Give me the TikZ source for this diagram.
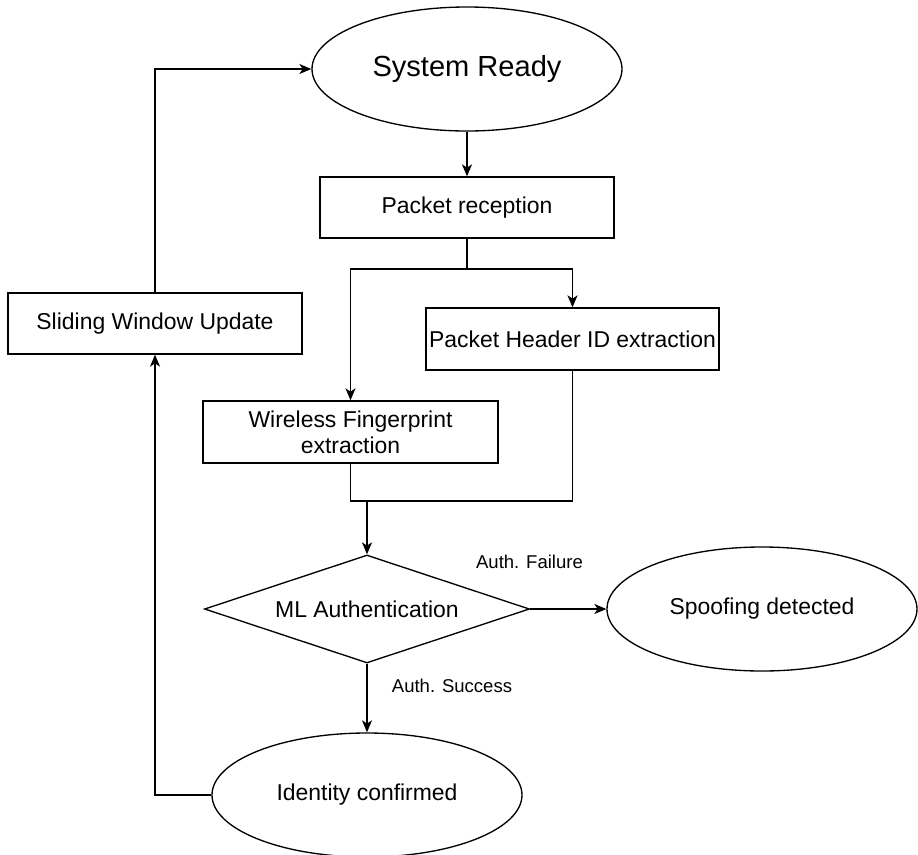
\documentclass[tikz,border=0pt]{standalone}
\usepackage{fontspec}
\setmainfont{Liberation Sans}
\usetikzlibrary{shapes.geometric,arrows.meta}
\begin{document}
\begin{tikzpicture}[x=0.75pt,y=-0.75pt,
  every node/.style={font=\fontsize{17.2pt}{19.5pt}\selectfont},
  line/.style={draw=black,line width=1pt},
  arr/.style={line,-{Stealth[length=9pt,width=7.5pt,inset=2.5pt]}},
  boxnode/.style={draw,line width=1pt,rectangle,inner sep=1pt,align=center},
  ovalnode/.style={draw,line width=1pt,ellipse,inner sep=0pt,minimum width=232.5pt,minimum height=93pt},
  lbl/.style={font=\fontsize{13.9pt}{16pt}\selectfont,inner sep=0pt}]
\useasboundingbox (0,0) rectangle (918,854);
\node[ovalnode,font=\fontsize{21.8pt}{24pt}\selectfont] (sr) at (467,69) {System Ready};
\node[boxnode,minimum width=220.5pt,minimum height=45.75pt] (pr) at (467,207.5) {Packet reception};
\node[boxnode,minimum width=219.75pt,minimum height=46.5pt] (ph) at (572.5,339) {Packet Header ID extraction};
\node[boxnode,minimum width=221.25pt,minimum height=46.5pt] (wf) at (350.5,432) {Wireless Fingerprint\\extraction};
\node[boxnode,minimum width=220.5pt,minimum height=45.75pt] (sw) at (155,323.5) {Sliding Window Update};
\node[draw,line width=1pt,diamond,aspect=3,inner sep=0pt,minimum width=243.75pt,minimum height=81pt] (ml) at (367,609) {ML Authentication};
\node[ovalnode] (sp) at (762,609) {Spoofing detected};
\node[ovalnode] (ic) at (367,795) {Identity confirmed};
\node[lbl] (lf) at (529.5,562) {Auth. Failure};
\node[lbl] (ls) at (452,686) {Auth. Success};
\coordinate (j1) at (467,269);
\coordinate (j2) at (367,501);
\draw[arr] (sr) -- (pr);
\draw[line] (pr.south) -- (j1);
\draw[arr] (j1) -| (wf.north);
\draw[arr] (j1) -| (ph.north);
\draw[line] (wf.south) |- (j2) -| (ph.south);
\draw[arr] (j2) -- (ml.north);
\draw[arr] (ml.east) -- (sp.west);
\draw[arr] (ml.south) -- (ic.north);
\draw[arr] (ic.west) -| (sw.south);
\draw[arr] (sw.north) |- (sr.west);
\end{tikzpicture}
\end{document}
